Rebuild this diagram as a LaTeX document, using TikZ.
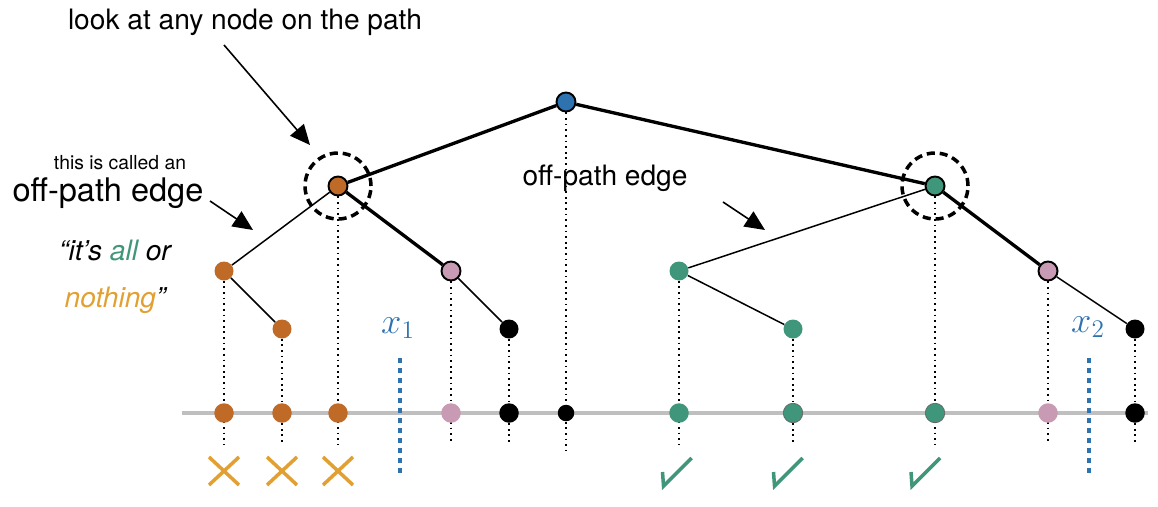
\documentclass[tikz,border=0pt]{standalone}
\usepackage{fontspec}
\setmainfont{TeX Gyre Heros}
\usetikzlibrary{arrows.meta,calc}
\definecolor{rust}{RGB}{192,106,40}
\definecolor{mauve}{RGB}{200,154,180}
\definecolor{teal}{RGB}{64,150,122}
\definecolor{steel}{RGB}{46,114,176}
\definecolor{gold}{RGB}{226,160,50}
\tikzset{
	vert/.style={circle, inner sep=0pt, minimum size=0.38cm},
	onpath/.style={vert, draw=black, line width=1.1pt},
	leaf/.style={circle, inner sep=0pt, minimum size=0.39cm},
	rimmed/.style={leaf, draw=black!60, line width=0.4pt},
	treeedge/.style={line width=0.85pt},
	pathedge/.style={line width=1.9pt},
	drop/.style={line width=1pt, dash pattern=on 1pt off 2.2pt},
	spot/.style={line width=2pt, dash pattern=on 4.6pt off 2.8pt},
	split/.style={steel, line width=2.3pt, dash pattern=on 2.6pt off 3.1pt},
	pointer/.style={line width=0.9pt, -{Triangle[length=11.4pt, width=10.2pt]}},
	nomark/.style={gold, line width=2pt},
	yesmark/.style={teal, line width=2pt, line join=miter}
}
\def\crossat(#1){\draw[nomark] ($(#1)+(-0.3,-1.44)$) -- ($(#1)+(0.3,-0.88)$);
	\draw[nomark] ($(#1)+(-0.3,-0.88)$) -- ($(#1)+(0.3,-1.44)$);}
\def\checkat(#1)(#2){\draw[yesmark] ($(#1)+(#2-0.29,-1.18)$) -- ($(#1)+(#2-0.27,-1.46)$) -- ($(#1)+(#2+0.29,-0.9)$);}
\begin{document}
\begin{tikzpicture}
			\useasboundingbox (0,0) rectangle (23.16,10.12);
			%%%%% TREE %%%%%
			\node[onpath, fill=steel] (root) at (11.32, 8.08) {};
			\node[onpath, fill=rust] (L) at (6.76, 6.40) {};
			\node[onpath, fill=teal] (R) at (18.70, 6.40) {};
			\node[vert, fill=rust] (LL) at (4.48, 4.70) {};
			\node[vert, fill=rust] (LLR) at (5.64, 3.54) {};
			\node[onpath, fill=mauve] (LR) at (9.02, 4.70) {};
			\node[vert, fill=black] (LRR) at (10.18, 3.54) {};
			\node[vert, fill=teal] (RL) at (13.58, 4.70) {};
			\node[vert, fill=teal] (RLR) at (15.86, 3.54) {};
			\node[onpath, fill=mauve] (RR) at (20.96, 4.70) {};
			\node[vert, fill=black] (RRR) at (22.70, 3.54) {};
			
			%%%%% DROPS %%%%%
			\coordinate (lineW) at (3.64, 1.86);
			\coordinate (lineE) at (22.96, 1.86);
			\foreach \v in {LL, LLR, L, LR, LRR, RL, RLR, R, RR, RRR}
				\draw[drop] (\v.south) -- (\v |- lineW) -- ++(0,-0.62);
			\draw[drop] (root.south) -- (root |- lineW) -- ++(0,-0.76);
			\draw[black!25, line width=2.3pt] (lineW) -- (lineE);
			
			%%%%% LINE %%%%%
			\node[leaf, fill=rust] (bLL) at (LL |- lineW) {};
			\node[leaf, fill=rust] (bLLR) at (LLR |- lineW) {};
			\node[leaf, fill=rust] (bL) at (L |- lineW) {};
			\node[leaf, fill=mauve] (bLR) at (LR |- lineW) {};
			\node[leaf, fill=black] (bLRR) at (LRR |- lineW) {};
			\node[leaf, fill=black, minimum size=0.33cm] (broot) at (root |- lineW) {};
			\node[leaf, fill=teal] (bRL) at (RL |- lineW) {};
			\node[rimmed, fill=teal] (bRLR) at (RLR |- lineW) {};
			\node[rimmed, fill=teal] (bR) at (R |- lineW) {};
			\node[leaf, fill=mauve] (bRR) at (RR |- lineW) {};
			\node[leaf, fill=black] (bRRR) at (RRR |- lineW) {};
			
			%%%%% EDGES %%%%%
			\draw[pathedge] (root) -- (L);
			\draw[pathedge] (root) -- (R);
			\draw[pathedge] (L) -- (LR);
			\draw[pathedge] (R) -- (RR);
			\draw[treeedge] (L) -- (LL);
			\draw[treeedge] (LL) -- (LLR);
			\draw[treeedge] (LR) -- (LRR);
			\draw[treeedge] (R) -- (RL);
			\draw[treeedge] (RL) -- (RLR);
			\draw[treeedge] (RR) -- (RRR);
			\draw[spot] (L) circle (0.66);
			\draw[spot] (R) circle (0.66);
			
			%%%%% SPLITS %%%%%
			\node[steel, font=\fontsize{22}{26}\selectfont] (xone) at (7.96, 3.56) {$x_1$};
			\node[steel, font=\fontsize{22}{26}\selectfont] (xtwo) at (21.76, 3.58) {$x_2$};
			\draw[split] (8.0, 2.96) -- (8.0, 0.64);
			\draw[split] (21.78, 2.96) -- (21.78, 0.62);
			
			%%%%% MARKS %%%%%
			\crossat(bLL)
			\crossat(bLLR)
			\crossat(bL)
			\checkat(bRL)(-0.04)
			\checkat(bRLR)(-0.1)
			\checkat(bR)(-0.19)
			
			%%%%% TEXT %%%%%
			\node[font=\fontsize{16}{19}\selectfont] (look) at (4.9, 9.68) {look at any node on the path};
			\coordinate (lookfrom) at (4.48, 9.22);
			\coordinate (lookto) at (6.2, 7.22);
			\draw[pointer] (lookfrom) -- (lookto);
			\node[font=\fontsize{11}{13}\selectfont] (called) at (2.4, 6.86) {this is called an};
			\node[font=\fontsize{18.5}{22}\selectfont] (offbig) at (2.16, 6.26) {off-path edge};
			\coordinate (bigfrom) at (4.2, 6.1);
			\coordinate (bigto) at (5.06, 5.52);
			\draw[pointer] (bigfrom) -- (bigto);
			\node[font=\fontsize{16}{19}\selectfont\itshape] (allor) at (2.3, 5.12) {“it’s \textcolor{teal}{all} or};
			\node[font=\fontsize{16}{19}\selectfont\itshape] (nothing) at (2.3, 4.12) {\textcolor{gold}{nothing}”};
			\node[font=\fontsize{16}{19}\selectfont] (offmid) at (12.1, 6.56) {off-path edge};
			\coordinate (midfrom) at (14.46, 6.08);
			\coordinate (midto) at (15.3, 5.52);
			\draw[pointer] (midfrom) -- (midto);
\end{tikzpicture}
\end{document}
